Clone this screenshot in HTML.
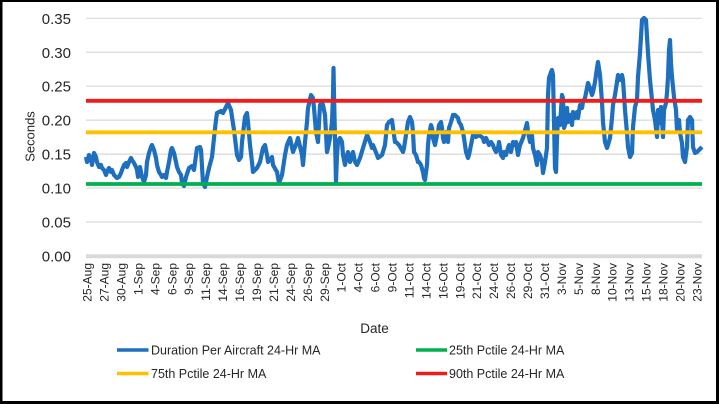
<!DOCTYPE html>
<html><head><meta charset="utf-8"><style>
html,body{margin:0;padding:0;background:#fff;}
svg{display:block;}
text{font-family:"Liberation Sans",Arial,sans-serif;fill:#262626;}
</style></head><body>
<svg width="719" height="404" viewBox="0 0 719 404" xmlns="http://www.w3.org/2000/svg">
<rect x="0" y="0" width="719" height="404" fill="#000"/>
<rect x="2.5" y="2" width="713.5" height="399" fill="#fff"/>
<g stroke="#d9d9d9" stroke-width="1.2">
<line x1="86" x2="702" y1="18.3" y2="18.3"/>
<line x1="86" x2="702" y1="52.25" y2="52.25"/>
<line x1="86" x2="702" y1="86.2" y2="86.2"/>
<line x1="86" x2="702" y1="120.15" y2="120.15"/>
<line x1="86" x2="702" y1="154.1" y2="154.1"/>
<line x1="86" x2="702" y1="188.05" y2="188.05"/>
<line x1="86" x2="702" y1="222" y2="222"/>
</g>
<line x1="86" x2="702" y1="256.3" y2="256.3" stroke="#d9d9d9" stroke-width="4"/>
<g font-size="15" text-anchor="end">
<text x="71" y="23.8">0.35</text>
<text x="71" y="57.75">0.30</text>
<text x="71" y="91.7">0.25</text>
<text x="71" y="125.65">0.20</text>
<text x="71" y="159.6">0.15</text>
<text x="71" y="193.55">0.10</text>
<text x="71" y="227.5">0.05</text>
<text x="71" y="261.45">0.00</text>
</g>
<text transform="translate(34.5,136.5) rotate(-90)" font-size="13" text-anchor="middle">Seconds</text>
<polyline fill="none" stroke="#1f6fbf" stroke-width="4.2" stroke-linejoin="round" points="
86,157 87,162 89,155 91,160 92,165 94,153 96,157 97,162 99,167 101,165 102,168 104,170 106,175 107,172 109,168 111,172 112,170 114,175 116,177 117,178 119,177 121,173 122,170 124,165 126,163 127,167 129,162 131,158 132,160 134,163 136,167 137,170 138,177 140,167 141,172 142,177 144,182 146,175 147,162 149,153 151,147 152,145 154,150 156,158 157,165 159,172 161,175 162,177 164,175 166,178 167,172 169,162 171,150 172,148 174,153 176,162 177,167 179,172 181,175 182,183 184,186 186,177 189,168 192,166 194,170 197,148 200,147 201,150 203,183 205,187 207,177 209,168 212,157 214,138 216,120 217,113 221,111 223,113 226,107 228,103 231,110 232,117 234,130 237,155 239,160 241,157
242,142 245,117 247,113 248,122 250,145 252,162 253,172 257,168 260,162 263,148 265,145 267,155 268,162 272,157 273,165 277,172 279,183 282,175 285,155 287,145 290,138 293,152 297,142 298,138 302,155 303,165 305,142 307,122 308,108 311,95 313,98 314,108 316,132 318,142 320,105 322,102 323,105 325,115 327,152 328,148 330,138 332,122 333,95 333.5,68 334,95 335,138 336,182 337,155 338,142 340,138 342,142 343,155 345,165 347,155 348,152 350,162 352,155 353,152 355,162 357,165 360,158 363,148 367,135 368,137 370,142 372,148 373,145 377,155 378,158 382,155 385,145 387,125 389,122 392,120 393,128 395,142
396,142 399,145 403,152 404,148 406,135 408,122 410,117 412,122 413,132 414,152 416,155 418,162 419,162 421,165 423,172 424,178 425,180 427,165 428,145 429,135 431,125 432,128 433,138 435,145 437,135 438,132 439,125 441,122 442,128 443,138 444,142 446,132 448,142 449,128 451,122 453,115 455,115 458,118 459,122 461,125 463,132 464,138 466,152 468,158 469,155 471,145 473,135 474,135 476,137 479,135 483,138 484,142 486,138 489,145 491,142 493,145 494,148 496,152 498,148 499,142 501,155 503,158 504,152 506,155 508,148 509,145 511,152 513,142 514,145 516,142 518,155 520,145 523,138 527,123 528,132 530,142 532,135 533,148 535,155 537,165 538,152 540,155 542,162 543,173 545,162 547,148 548,95 549,78 551,72 552,70 553,75 554,122 555,168 556,172 557,138 558,118 560,125 562,95 563,98 564,128 566,122 567,108 568,122 570,115 572,125 573,112 575,118 577,112 578,118 580,105 582,108 583,102 585,98 587,88 588,83 590,88 592,95 593,92 595,82 597,68 598,62 600,75 602,102 603,122 605,142 607,148 608,145 610,138 612,118 613,105 615,95 617,82 618,75 620,80 622,75 623,80 625,110 627,133 628,147 630,157 632,153 633,127 635,107 637,100 638,77 640,53 641,37 642,20 644,18 646,20 647,37 648,53 650,80 652,100 653,110 655,120 657,137 658,110 660,123 661,107 662,120 663,137 664,110 666,103 667,93 668,77 669,50 670,40 671,63 672,77 674,97 676,110 677,130 679,120 680,133 682,143 683,157 685,162 687,147 688,120 690,117 692,120 693,147 695,153 697,152 699,150 702,147"/>
<line x1="86" x2="702" y1="184" y2="184" stroke="#00b050" stroke-width="3.8"/>
<line x1="86" x2="702" y1="132.3" y2="132.3" stroke="#ffc000" stroke-width="3.8"/>
<line x1="86" x2="702" y1="100.8" y2="100.8" stroke="#ee1c1c" stroke-width="3.8"/>
<g font-size="12" text-anchor="end">
<text transform="translate(91.6,263) rotate(-90)">25-Aug</text>
<text transform="translate(108.5,263) rotate(-90)">27-Aug</text>
<text transform="translate(125.5,263) rotate(-90)">30-Aug</text>
<text transform="translate(142.4,263) rotate(-90)">1-Sep</text>
<text transform="translate(159.4,263) rotate(-90)">4-Sep</text>
<text transform="translate(176.3,263) rotate(-90)">6-Sep</text>
<text transform="translate(193.2,263) rotate(-90)">9-Sep</text>
<text transform="translate(210.2,263) rotate(-90)">11-Sep</text>
<text transform="translate(227.1,263) rotate(-90)">14-Sep</text>
<text transform="translate(244.1,263) rotate(-90)">16-Sep</text>
<text transform="translate(261,263) rotate(-90)">19-Sep</text>
<text transform="translate(277.9,263) rotate(-90)">21-Sep</text>
<text transform="translate(294.9,263) rotate(-90)">24-Sep</text>
<text transform="translate(311.8,263) rotate(-90)">26-Sep</text>
<text transform="translate(328.8,263) rotate(-90)">29-Sep</text>
<text transform="translate(345.7,263) rotate(-90)">1-Oct</text>
<text transform="translate(362.6,263) rotate(-90)">4-Oct</text>
<text transform="translate(379.6,263) rotate(-90)">6-Oct</text>
<text transform="translate(396.5,263) rotate(-90)">9-Oct</text>
<text transform="translate(413.5,263) rotate(-90)">11-Oct</text>
<text transform="translate(430.4,263) rotate(-90)">14-Oct</text>
<text transform="translate(447.3,263) rotate(-90)">16-Oct</text>
<text transform="translate(464.3,263) rotate(-90)">19-Oct</text>
<text transform="translate(481.2,263) rotate(-90)">21-Oct</text>
<text transform="translate(498.2,263) rotate(-90)">24-Oct</text>
<text transform="translate(515.1,263) rotate(-90)">26-Oct</text>
<text transform="translate(532,263) rotate(-90)">29-Oct</text>
<text transform="translate(549,263) rotate(-90)">31-Oct</text>
<text transform="translate(565.9,263) rotate(-90)">3-Nov</text>
<text transform="translate(582.9,263) rotate(-90)">5-Nov</text>
<text transform="translate(599.8,263) rotate(-90)">8-Nov</text>
<text transform="translate(616.7,263) rotate(-90)">10-Nov</text>
<text transform="translate(633.7,263) rotate(-90)">13-Nov</text>
<text transform="translate(650.6,263) rotate(-90)">15-Nov</text>
<text transform="translate(667.6,263) rotate(-90)">18-Nov</text>
<text transform="translate(684.5,263) rotate(-90)">20-Nov</text>
<text transform="translate(701.4,263) rotate(-90)">23-Nov</text>
</g>
<text x="374.5" y="333" font-size="13.5" text-anchor="middle">Date</text>
<g stroke-width="3.4">
<line x1="117" x2="148.5" y1="350" y2="350" stroke="#1f6fbf"/>
<line x1="416" x2="447" y1="350" y2="350" stroke="#00b050"/>
<line x1="117" x2="148.5" y1="373.5" y2="373.5" stroke="#ffc000"/>
<line x1="416" x2="447" y1="373.5" y2="373.5" stroke="#ee1c1c"/>
</g>
<g font-size="12.5">
<text x="151" y="354.3">Duration Per Aircraft 24-Hr MA</text>
<text x="449" y="354.3">25th Pctile 24-Hr MA</text>
<text x="151" y="378">75th Pctile 24-Hr MA</text>
<text x="449" y="378">90th Pctile 24-Hr MA</text>
</g>
</svg>
</body></html>
